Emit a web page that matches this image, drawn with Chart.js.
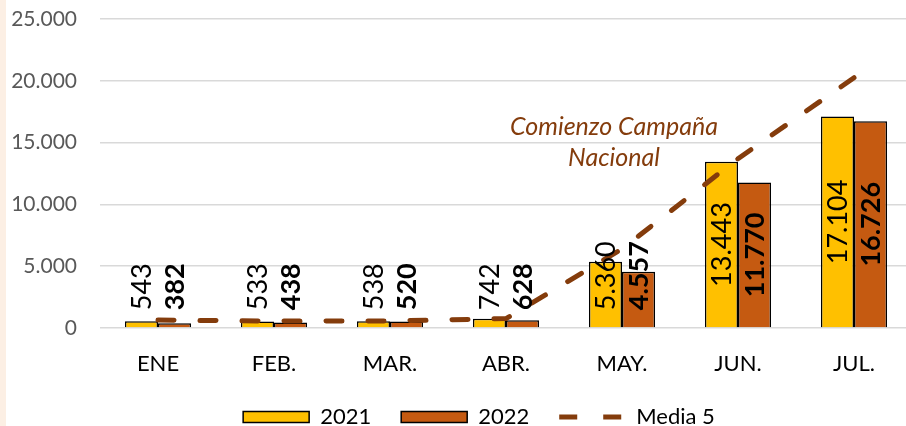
<!DOCTYPE html>
<html>
<head>
<meta charset="utf-8">
<script src="https://cdn.jsdelivr.net/npm/chart.js@4.4.1/dist/chart.umd.min.js"></script>
<style>
  html, body { margin: 0; padding: 0; overflow: hidden; }
  body { background: linear-gradient(to right, #FCEFE4 6px, #fff 6px); width: 906px; height: 426px; }
  #c { display: block; }
</style>
</head>
<body>
<canvas id="c" width="912" height="426"></canvas>
<script>
const months = ["ENE", "FEB.", "MAR.", "ABR.", "MAY.", "JUN.", "JUL."];
const v2021 = [543, 533, 538, 742, 5360, 13443, 17104];
const v2022 = [382, 438, 520, 628, 4557, 11770, 16726];
const media5 = [640, 560, 570, 760, 6400, 13700, 20250];
const yTicks = [0, 5000, 10000, 15000, 20000, 25000];
const note = ["Comienzo Campaña", "Nacional"];

function fmt(v) {
  return String(v).replace(/\B(?=(\d{3})+(?!\d))/g, '.');
}

// value labels, rotated, centred in the bar but kept above the base
const barLabels = {
  id: 'barLabels',
  afterLayout(chart) {
    // nudge the legend row a bit to the right, like the original
    chart.legend.left += 46;
  },
  afterDatasetsDraw(chart) {
    const ctx = chart.ctx;
    [0, 1].forEach(di => {
      const meta = chart.getDatasetMeta(di);
      const vals = chart.data.datasets[di].data;
      ctx.save();
      ctx.font = (di === 1 ? 'bold ' : '') + '27px Lato';
      ctx.fillStyle = '#000';
      ctx.textBaseline = 'middle';
      ctx.textAlign = 'left';
      meta.data.forEach((el, i) => {
        const txt = fmt(vals[i]);
        const w = ctx.measureText(txt).width;
        const mid = (el.y + el.base) / 2;
        const bottom = Math.min(mid + w / 2, el.base - 17);
        ctx.save();
        ctx.translate(el.x, bottom);
        ctx.rotate(-Math.PI / 2);
        ctx.fillText(txt, 0, 1);
        ctx.restore();
      });
      ctx.restore();
    });
    // annotation
    const xs = chart.scales.x, ys = chart.scales.y;
    ctx.save();
    ctx.font = 'italic 25px Lato';
    ctx.fillStyle = '#843C0C';
    ctx.textAlign = 'center';
    ctx.textBaseline = 'middle';
    const cx = xs.getPixelForValue(4) - 8;
    ctx.fillText(note[0], cx, ys.getPixelForValue(16250));
    ctx.fillText(note[1], cx, ys.getPixelForValue(13750));
    ctx.restore();
  }
};

new Chart(document.getElementById('c'), {
  data: {
    labels: months,
    datasets: [
      {
        type: 'bar', label: '2021', data: v2021, order: 1,
        backgroundColor: '#FFC000', borderColor: '#000', borderWidth: 1.5,
        barPercentage: 1.0, categoryPercentage: 0.57
      },
      {
        type: 'bar', label: '2022', data: v2022, order: 1,
        backgroundColor: '#C55A11', borderColor: '#000', borderWidth: 1.5,
        barPercentage: 1.0, categoryPercentage: 0.57
      },
      {
        type: 'line', label: 'Media 5', data: media5, order: 0,
        borderColor: '#843C0C', backgroundColor: '#843C0C', borderWidth: 5,
        borderDash: [16, 26], borderCapStyle: 'round', pointRadius: 0, fill: false, tension: 0
      }
    ]
  },
  options: {
    responsive: false,
    animation: false,
    layout: { padding: { top: 19, left: 0, right: 0, bottom: 0 } },
    plugins: {
      tooltip: { enabled: false },
      legend: {
        position: 'bottom',
        maxHeight: 50,
        labels: {
          font: { family: 'Lato', size: 22 },
          color: '#000',
          usePointStyle: true,
          pointStyleWidth: 66,
          boxHeight: 11,
          padding: 30,
          sort: (a, b) => a.datasetIndex - b.datasetIndex,
          generateLabels(chart) {
            const items = Chart.defaults.plugins.legend.labels.generateLabels(chart);
            items.forEach(it => {
              if (it.datasetIndex === 2) {
                it.pointStyle = 'line';
                it.lineDash = [18, 26];
              } else {
                it.pointStyle = 'rect';
              }
            });
            return items;
          }
        }
      }
    },
    scales: {
      x: {
        grid: { display: false },
        border: { display: false },
        ticks: { font: { family: 'Lato', size: 22 }, color: '#000', padding: 15 },
        afterFit(s) { s.height = 48; }
      },
      y: {
        min: 0, max: 25000,
        grid: { color: '#D9D9D9', lineWidth: 1.5, drawTicks: true, tickLength: 23, tickColor: 'rgba(0,0,0,0)' },
        border: { display: false },
        afterBuildTicks(s) { s.ticks = yTicks.map(v => ({ value: v })); },
        ticks: {
          font: { family: 'Lato', size: 21 }, color: '#595959', padding: 0,
          callback: v => fmt(v)
        },
        afterFit(s) { s.width = 100; }
      }
    }
  },
  plugins: [barLabels]
});
</script>
</body>
</html>
